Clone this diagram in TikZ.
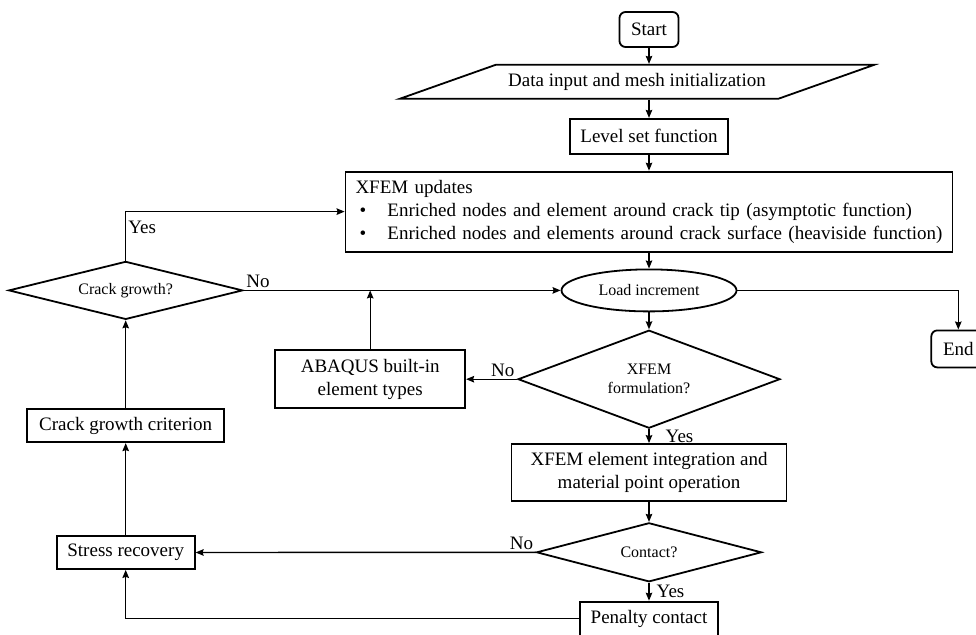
\documentclass[tikz,border=0pt]{standalone}
\usepackage{fontspec}
\setmainfont{Liberation Serif}
\usetikzlibrary{positioning,shapes.geometric,arrows.meta}
\newcommand\boxfont{\fontsize{19}{23}\selectfont}
\newcommand\decfont{\fontsize{16}{19}\selectfont}
\newcommand\bulletitem[1]{\makebox[32pt][l]{\hspace{4pt}\textbullet}#1}
\tikzset{
    >={Stealth[length=8pt, width=6.5pt, inset=1pt]}, % small filled heads
    flow/.style={draw, line width=1.8pt, inner sep=0pt, font=\boxfont, align=center},
    procbox/.style={flow, rectangle},
    termbox/.style={flow, rectangle, rounded corners=6pt},
    iobox/.style={flow, trapezium, trapezium left angle=19.5, trapezium right angle=160.5,
        inner xsep=12.5pt, inner ysep=8.5pt, text height=13pt, text depth=4pt},
    decision/.style={flow, diamond, font=\decfont},
    loadbox/.style={flow, ellipse, font=\decfont},
    link/.style={->, line width=1.4pt},
    answer/.style={font=\boxfont, inner sep=2pt},
}

\begin{document}
\begin{tikzpicture}[x=1pt, y=-1pt]
    \useasboundingbox (0,0) rectangle (976,634);

    % main column
    \node[termbox, minimum width=59pt, minimum height=35pt] (start) at (649,29.5) {Start};
    \node[iobox, below=16pt of start, xshift=-12pt] (data) {Data input and mesh initialization};
    \node[procbox, minimum width=158pt, minimum height=35pt, below=70pt of start] (level) {Level set function};
    \node[procbox, minimum height=80pt, text width=587pt, inner xsep=10pt, align=left, below=16pt of level] (xfem)
        {XFEM updates\\
         \bulletitem{Enriched nodes and element around crack tip (asymptotic function)}\\
         \bulletitem{Enriched nodes and elements around crack surface (heaviside function)}};
    \node[loadbox, minimum width=175pt, minimum height=42pt, below=16pt of xfem] (load) {Load increment};
    \node[decision, shape aspect=2.67, minimum width=262pt, minimum height=98pt, below=17pt of load] (xform) {XFEM\\formulation?};
    \node[procbox, minimum width=275pt, minimum height=57pt, below=14pt of xform] (integ) {XFEM element integration and\\material point operation};
    \node[decision, shape aspect=3.8, minimum width=225pt, minimum height=59pt, below=20pt of integ] (contact) {Contact?};
    \node[procbox, minimum width=138pt, minimum height=34pt, below=18pt of contact] (penalty) {Penalty contact};

    % side nodes
    \node[decision, shape aspect=4, minimum width=234pt, minimum height=58pt, left=317pt of load] (crack) {Crack growth?};
    \node[procbox, minimum width=197pt, minimum height=33pt, below=88pt of crack] (crit) {Crack growth criterion};
    \node[procbox, minimum width=138pt, minimum height=33pt, below=92pt of crit] (stress) {Stress recovery};
    \node[procbox, minimum width=190pt, minimum height=58pt, left=51pt of xform] (abaqus) {ABAQUS built-in\\element types};
    \node[termbox, minimum width=54pt, minimum height=37pt, right=193pt of load, yshift=-58.5pt] (end) {End};

    % connectors
    \draw[link] (start.south) -- (start.south |- data.north);
    \draw[link] (level.north |- data.south) -- (level.north);
    \draw[link] (level) -- (xfem);
    \draw[link] (xfem) -- (load);
    \draw[link] (load) -- (xform);
    \draw[link] (xform) -- node[answer, right, xshift=14pt] (yes2) {Yes} (integ);
    \draw[link] (integ) -- (contact);
    \draw[link] (contact) -- node[answer, right, xshift=5pt] (yes3) {Yes} (penalty);
    \draw[link] (contact) -- node[answer, above left, pos=0] (no3) {No} (stress);
    \draw[link] (xform) -- node[answer, above left, pos=0] (no2) {No} (abaqus);
    \draw[link] (abaqus) -- (abaqus |- load);
    \draw[link] (crack) -- node[answer, above right, pos=0] (no1) {No} (load);
    \draw[link] (crack) |- node[answer, right, pos=0.34] (yes1) {Yes} (xfem);
    \draw[link] (load) -| (end);
    \draw[link] (penalty) -| (stress);
    \draw[link] (stress) -- (crit);
    \draw[link] (crit) -- (crack);
\end{tikzpicture}
\end{document}
